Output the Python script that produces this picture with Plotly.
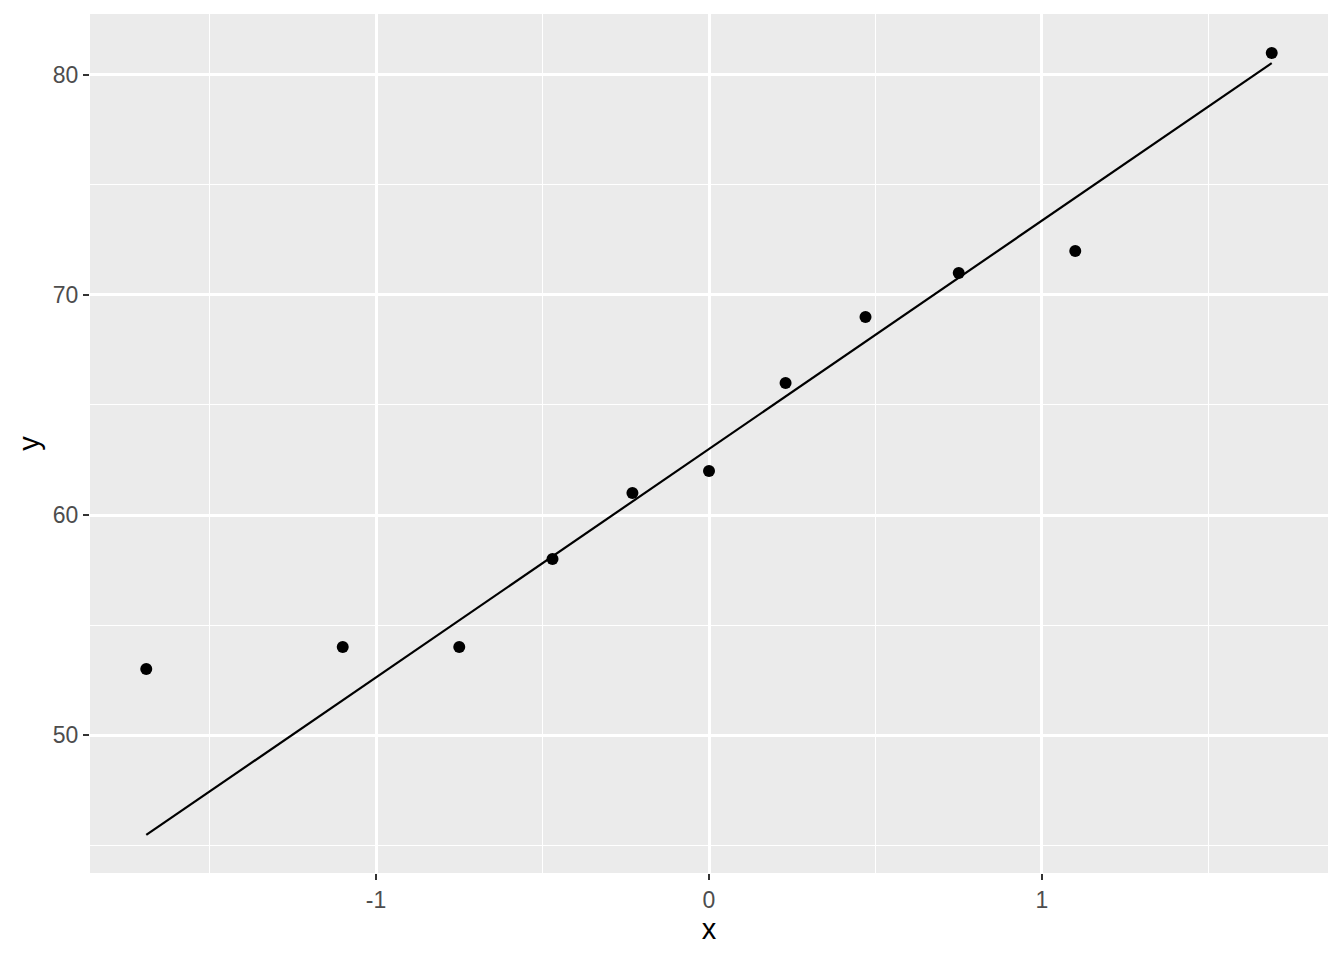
import plotly.graph_objects as go

# theoretical quantiles and sample values
theo_x = [-1.69, -1.10, -0.75, -0.47, -0.23, 0.0, 0.23, 0.47, 0.75, 1.10, 1.69]
sample_y = [53, 54, 54, 58, 61, 62, 66, 69, 71, 72, 81]
# qq reference line endpoints
line_x = [-1.69, 1.69]
line_y = [45.46, 80.54]

x_ticks = [-1, 0, 1]
x_minor = [-1.5, -0.5, 0.5, 1.5]
y_ticks = [50, 60, 70, 80]
y_minor = [45, 55, 65, 75]

fig = go.Figure()
fig.add_trace(go.Scatter(x=line_x, y=line_y, mode="lines",
                         line=dict(color="black", width=2.2), showlegend=False, hoverinfo="skip"))
fig.add_trace(go.Scatter(x=theo_x, y=sample_y, mode="markers",
                         marker=dict(color="black", size=12), showlegend=False))

tickfont = dict(family="Liberation Sans, Arial, sans-serif", size=23, color="#4D4D4D")
titlefont = dict(family="Liberation Sans, Arial, sans-serif", size=29, color="black")

fig.update_layout(
    width=1336, height=952,
    margin=dict(l=82, r=16, t=6, b=87),
    paper_bgcolor="white", plot_bgcolor="#EBEBEB",
    xaxis=dict(range=[-1.859, 1.859], tickvals=x_ticks, ticktext=["-1", "0", "1"],
               showgrid=True, gridcolor="white", gridwidth=2.6,
               zeroline=False, showline=False,
               ticks="outside", ticklen=6, tickwidth=2.2, tickcolor="#333333",
               tickfont=tickfont,
               minor=dict(tickvals=x_minor, showgrid=True, gridcolor="white", gridwidth=1.3, ticks=""),
               title=dict(text="x", font=titlefont, standoff=6)),
    yaxis=dict(range=[43.73, 82.77], tickvals=y_ticks,
               showgrid=True, gridcolor="white", gridwidth=2.6,
               zeroline=False, showline=False,
               ticks="outside", ticklen=6, tickwidth=2.2, tickcolor="#333333",
               tickfont=tickfont,
               minor=dict(tickvals=y_minor, showgrid=True, gridcolor="white", gridwidth=1.3, ticks=""),
               title=dict(text="y", font=titlefont, standoff=4)),
)

fig.write_html("out.html")
